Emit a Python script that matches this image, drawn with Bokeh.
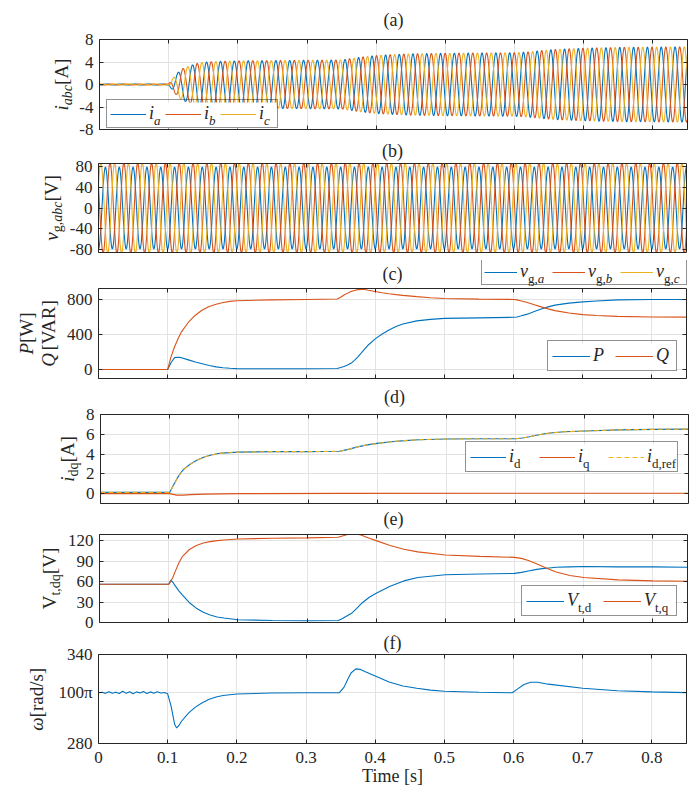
import numpy as np
from bokeh.plotting import figure
from bokeh.layouts import column, row
from bokeh.models import (Legend, LegendItem, Label, LinearAxis, FixedTicker, Range1d, Grid, Title,
                          BoxAnnotation)
from bokeh.embed import file_html
from bokeh.resources import INLINE
from bokeh.core.properties import value

# ---------------- data ----------------
x_ticks = [0, 0.1, 0.2, 0.3, 0.4, 0.5, 0.6, 0.7, 0.8]
x_tick_labels = ["0", "0.1", "0.2", "0.3", "0.4", "0.5", "0.6", "0.7", "0.8"]

ya_ticks = [-8, -4, 0, 4, 8]
ya_labels = ["-8", "-4", "0", "4", "8"]
yb_ticks = [-80, -40, 0, 40, 80]
yb_labels = ["-80", "-40", "0", "40", "80"]
yc_ticks = [0, 400, 800]
yc_labels = ["0", "400", "800"]
yd_ticks = [0, 2, 4, 6, 8]
yd_labels = ["0", "2", "4", "6", "8"]
ye_ticks = [0, 30, 60, 90, 120]
ye_labels = ["0", "30", "60", "90", "120"]
yf_ticks = [280.0, 314.1592653589793, 340.0]
yf_labels = ["280", "100π", "340"]

# (a)/(b) three-phase waveforms: 50 Hz, peak envelopes
grid_freq_hz = 50.0
vg_phase_a_deg = -90.0
vg_peak = [78.0, 86.0, 86.0]
t_iamp = [0.0, 0.1, 0.105, 0.11, 0.115, 0.12, 0.13, 0.14, 0.15, 0.17, 0.2, 0.25, 0.3, 0.35,
          0.36, 0.38, 0.4, 0.42, 0.45, 0.5, 0.55, 0.6, 0.62, 0.64, 0.66, 0.7, 0.75, 0.8, 0.85]
i_peak = [0.1, 0.1, 0.9, 1.7, 2.3, 2.8, 3.3, 3.7, 3.95, 4.1, 4.2, 4.25, 4.3, 4.35,
          4.55, 4.9, 5.15, 5.3, 5.45, 5.55, 5.6, 5.65, 5.8, 6.05, 6.25, 6.45, 6.6, 6.65, 6.7]

# (c) active / reactive power
t_pq = [0.0, 0.1, 0.105, 0.11, 0.115, 0.12, 0.13, 0.14, 0.15, 0.16, 0.17, 0.18, 0.19, 0.2,
        0.25, 0.3, 0.345, 0.35, 0.355, 0.36, 0.365, 0.37, 0.375, 0.38, 0.385, 0.39,
        0.4, 0.41, 0.42, 0.43, 0.44, 0.46, 0.48, 0.5, 0.55, 0.6, 0.605, 0.61, 0.62, 0.63,
        0.64, 0.65, 0.66, 0.68, 0.7, 0.72, 0.75, 0.8, 0.85]
P_w = [0, 0, 80, 135, 140, 135, 110, 85, 65, 45, 30, 20, 14, 10,
       8, 8, 12, 22, 35, 50, 70, 105, 145, 190, 236, 280,
       350, 405, 450, 490, 520, 555, 572, 584, 590, 596, 600, 610, 632, 662,
       690, 715, 735, 758, 772, 782, 795, 800, 800]
Q_var = [0, 0, 150, 260, 350, 430, 540, 620, 680, 720, 745, 765, 778, 785,
         795, 800, 805, 825, 850, 872, 890, 903, 912, 915, 913, 905,
         890, 877, 865, 855, 846, 832, 820, 810, 804, 800, 795, 785, 765, 740,
         715, 692, 672, 645, 627, 617, 607, 600, 598]

# (d) dq currents
t_dq = [0.0, 0.1, 0.105, 0.11, 0.115, 0.12, 0.13, 0.14, 0.15, 0.16, 0.17, 0.18, 0.2, 0.25, 0.3,
        0.345, 0.35, 0.36, 0.37, 0.38, 0.39, 0.4, 0.42, 0.44, 0.46, 0.5, 0.55, 0.6, 0.61, 0.62,
        0.63, 0.64, 0.65, 0.67, 0.7, 0.75, 0.8, 0.85]
i_d = [0.12, 0.12, 0.8, 1.45, 2.0, 2.45, 3.0, 3.4, 3.7, 3.9, 4.05, 4.12, 4.2, 4.25, 4.25,
       4.28, 4.35, 4.5, 4.7, 4.85, 4.98, 5.08, 5.25, 5.36, 5.45, 5.52, 5.55, 5.55, 5.62, 5.75,
       5.9, 6.03, 6.13, 6.25, 6.33, 6.45, 6.5, 6.52]
i_d_ref = [0.12, 0.12, 0.75, 1.4, 1.95, 2.4, 2.98, 3.38, 3.7, 3.9, 4.05, 4.12, 4.2, 4.25, 4.25,
           4.28, 4.35, 4.5, 4.7, 4.85, 4.98, 5.08, 5.25, 5.36, 5.45, 5.52, 5.55, 5.55, 5.62, 5.75,
           5.9, 6.03, 6.13, 6.25, 6.33, 6.45, 6.5, 6.52]
t_iq = [0.0, 0.1, 0.105, 0.11, 0.12, 0.13, 0.15, 0.2, 0.35, 0.6, 0.85]
i_q = [0.0, 0.0, -0.08, -0.15, -0.15, -0.1, -0.05, 0.0, 0.02, 0.03, 0.03]

# (e) terminal voltage dq
t_vt = [0.0, 0.1, 0.103, 0.106, 0.11, 0.115, 0.12, 0.13, 0.14, 0.15, 0.16, 0.17, 0.18, 0.2, 0.25,
        0.3, 0.345, 0.35, 0.355, 0.36, 0.365, 0.37, 0.375, 0.38, 0.385, 0.39, 0.4, 0.42, 0.44, 0.46,
        0.5, 0.55, 0.6, 0.61, 0.62, 0.63, 0.64, 0.65, 0.66, 0.68, 0.7, 0.75, 0.8, 0.85]
V_td = [56, 56, 62, 59, 53, 46, 40, 29, 21, 15, 11, 8, 6.5, 4, 3,
        2.5, 3, 5, 8, 11, 14, 19, 24, 29, 33, 37, 43, 53, 61, 66,
        70, 71, 72, 73.5, 75.5, 77.5, 79, 80, 81, 81.5, 82, 81.5, 81.5, 81]
V_tq = [56, 56, 60, 66, 76, 88, 97, 107, 113, 116.5, 118.5, 120, 121, 122.5, 123.5,
        124, 125, 126.5, 128, 129.5, 130, 130, 129, 127.5, 125.5, 123.5, 120, 113, 107.5, 103.5,
        99, 97, 95.5, 94, 91, 87, 82.5, 78, 74, 69, 66, 62.5, 61, 60.5]

# (f) angular frequency
t_w = [0.0, 0.005, 0.01, 0.015, 0.02, 0.025, 0.03, 0.035, 0.04, 0.045, 0.05, 0.055, 0.06, 0.065,
       0.07, 0.075, 0.08, 0.085, 0.09, 0.095, 0.1, 0.105, 0.11, 0.113, 0.116, 0.12, 0.13, 0.14,
       0.15, 0.16, 0.17, 0.18, 0.2, 0.25, 0.3, 0.348, 0.355, 0.36, 0.365, 0.372, 0.378, 0.385,
       0.4, 0.42, 0.44, 0.46, 0.48, 0.5, 0.55, 0.598, 0.605, 0.615, 0.625, 0.635, 0.65, 0.7,
       0.75, 0.8, 0.85]
w_rad = [314.2, 314.5, 313.8, 314.9, 313.9, 314.6, 313.7, 315.2, 313.8, 314.9, 313.6, 314.8, 314.0, 315.0,
         313.7, 314.8, 313.9, 314.9, 314.0, 314.4, 313.5, 305.0, 293.0, 290.5, 292.0, 295.0, 300.5, 304.5,
         307.5, 309.8, 311.3, 312.4, 313.4, 314.0, 314.2, 314.2, 318.0, 323.0, 327.5, 330.3, 330.0, 328.5,
         325.5, 321.5, 318.8, 317.2, 316.0, 315.2, 314.5, 314.2, 316.5, 319.8, 321.3, 321.3, 320.0, 317.2,
         315.6, 314.8, 314.3]

# ---------------- styling ----------------
BLUE, ORANGE, YELLOW = "#0072BD", "#D95319", "#EDB120"
FONT = "Liberation Serif"
AX = "#262626"
GRID = "#e3e3e3"
LW = 1.1
W = 699
LEFT = 98
FW = 588
XR = (0, 0.85)

REG = {'(': .333, ')': .333, '[': .333, ']': .333, ',': .25, '.': .25, '/': .278, ' ': .25,
       'A': .722, 'V': .722, 'W': .944, 'R': .667, 'T': .611, 'P': .556, 'Q': .722,
       'a': .444, 'b': .5, 'c': .444, 'd': .5, 'e': .444, 'f': .333, 'g': .5, 'i': .278,
       'm': .778, 'q': .5, 'r': .333, 's': .389, 't': .278}
ITA = {'a': .5, 'b': .5, 'c': .444, 'i': .278, 'v': .444, 'P': .611, 'Q': .722, 'V': .611, 'ω': .67}


def tw(s, size, style):
    tab = ITA if style == "italic" else REG
    return sum(tab.get(ch, REG.get(ch, .5)) for ch in s) * size


def no_grids(p):
    p.center = [r for r in p.center if not isinstance(r, Grid)]
    return p


def blank(width, height):
    # a figure whose frame is its whole canvas: holds free-standing texts / legends
    return no_grids(figure(width=width, height=height, min_border=0, x_range=Range1d(0, 1),
                           y_range=Range1d(0, 1), x_axis_location=None, y_axis_location=None,
                           title=None, output_backend="svg", toolbar_location=None,
                           outline_line_color=None, background_fill_color="white",
                           border_fill_color="white"))


def panel(lab_w, frame_h, top, bottom, yr):
    return no_grids(figure(frame_width=FW, frame_height=frame_h, min_border_left=LEFT - lab_w,
                           min_border_right=13, min_border_top=top, min_border_bottom=bottom,
                           x_range=Range1d(*XR), y_range=Range1d(*yr),
                           x_axis_location=None, y_axis_location=None, title=None,
                           output_backend="svg", toolbar_location=None,
                           background_fill_color="white", border_fill_color="white",
                           outline_line_color=None))


def style_axis(ax, show, standoff):
    ax.axis_line_color = AX
    ax.axis_line_width = 1
    ax.major_tick_line_color = AX
    ax.major_tick_in = 4
    ax.major_tick_out = 0
    ax.minor_tick_line_color = None
    if show:
        ax.major_label_text_font = FONT
        ax.major_label_text_font_size = "17px"
        ax.major_label_text_color = AX
        ax.major_label_text_font_style = "normal"
        ax.major_label_standoff = standoff
    else:
        ax.major_label_text_font_size = "0px"
        ax.major_label_standoff = 0


def add_axes(p, yt, yl, show_x=False):
    for loc in ("below", "above"):
        show = show_x and loc == "below"
        labs = x_tick_labels if show else [""] * len(x_ticks)
        ax = LinearAxis(ticker=FixedTicker(ticks=x_ticks),
                        major_label_overrides={float(k): v for k, v in zip(x_ticks, labs)})
        style_axis(ax, show, 8)
        if show:
            ax.axis_label = "Time [s]"
            ax.axis_label_text_font = FONT
            ax.axis_label_text_font_size = "18px"
            ax.axis_label_text_font_style = "normal"
            ax.axis_label_text_color = AX
            ax.axis_label_standoff = 0
        p.add_layout(ax, loc)
    for loc in ("left", "right"):
        show = loc == "left"
        labs = yl if show else [""] * len(yt)
        ax = LinearAxis(ticker=FixedTicker(ticks=yt),
                        major_label_overrides={float(k): v for k, v in zip(yt, labs)})
        style_axis(ax, show, 6)
        p.add_layout(ax, loc)
    p.add_layout(Grid(dimension=0, ticker=FixedTicker(ticks=x_ticks), grid_line_color=GRID))
    p.add_layout(Grid(dimension=1, ticker=FixedTicker(ticks=yt), grid_line_color=GRID))


def add_title(p, text, standoff):
    p.add_layout(Title(text=text, align="center", vertical_align="top", text_font=FONT,
                       text_font_size="18px", text_font_style="normal", text_color=AX,
                       standoff=standoff), "above")


def text_label(p, text, x, y, size=18, style="normal", align="center", baseline="middle"):
    p.add_layout(Label(x=x, y=y, x_units="screen", y_units="screen", text=text,
                       text_align=align, text_baseline=baseline, text_font=FONT,
                       text_font_size=f"{size}px", text_font_style=style, text_color=AX))


def vlabel(p, pieces, xc, yc):
    # rotated label read bottom-to-top, xc = centre line of the main text;
    # each piece is anchored at its upper end
    widths = [tw(t, s, st) for t, s, st, sh in pieces]
    y = yc - sum(widths) / 2
    for (t, s, st, sh), wd in zip(pieces, widths):
        y += wd
        p.add_layout(Label(x=xc + sh, y=y, x_units="screen", y_units="screen", text=t,
                           angle=np.pi / 2, text_align="right", text_baseline="middle",
                           text_font=FONT, text_font_size=f"{s}px", text_font_style=st,
                           text_color=AX))


def hrich(p, pieces, x, y):
    for t, s, st in pieces:
        text_label(p, t, x, y, size=s, style=st, align="left", baseline="middle")
        x += tw(t, s, st)


def add_legend(p, rends, mains, subs, vx, vy, pad, gw, ls, lw, sp, fw, fh, xr, yr):
    n = len(rends)
    H = 2 * pad + 20
    Wd = 2 * pad + n * (gw + ls + lw) + (n - 1) * sp
    sxd = (xr[1] - xr[0]) / fw
    syd = (yr[1] - yr[0]) / fh
    # white legend background drawn first, so that the subscripts stay visible on it
    p.add_layout(BoxAnnotation(left=xr[0] + vx * sxd, right=xr[0] + (vx + Wd) * sxd,
                               bottom=yr[0] + vy * syd, top=yr[0] + (vy + H) * syd,
                               fill_color="white", fill_alpha=1, line_color=None,
                               line_alpha=0))
    ymid = vy + pad + 10
    for i, (m, sub) in enumerate(zip(mains, subs)):
        if not sub:
            continue
        x = vx + pad + i * (gw + ls + lw + sp) + gw + ls + tw(m, 18, "italic") + 0.5
        hrich(p, sub, x, ymid - 5)
    items = [LegendItem(label=value(m), renderers=[r]) for r, m in zip(rends, mains)]
    leg = Legend(items=items, orientation="horizontal", location=(vx, vy), padding=pad,
                 spacing=sp, glyph_width=gw, glyph_height=16, label_standoff=ls,
                 label_width=lw, label_height=20, margin=0,
                 label_text_font=FONT, label_text_font_size="18px",
                 label_text_font_style="italic", label_text_color=AX,
                 border_line_color=AX, border_line_width=1,
                 background_fill_alpha=0)
    p.add_layout(leg)


# ---------------- waveforms ----------------
t = np.arange(0.0, 0.8502, 0.0004)
wt = 2 * np.pi * grid_freq_hz * t + np.deg2rad(vg_phase_a_deg)
shifts = [0.0, -2 * np.pi / 3, 2 * np.pi / 3]
amp_i = np.interp(t, t_iamp, i_peak)
phi = np.arctan2(np.interp(t, t_pq, Q_var), np.interp(t, t_pq, P_w))
v_abc = [vg_peak[k] * np.sin(wt + shifts[k]) for k in range(3)]
i_abc = [amp_i * np.sin(wt + shifts[k] - phi) for k in range(3)]
cols = [BLUE, ORANGE, YELLOW]

SUB = 5.5  # offset of a subscript's centre line from the main text's centre line

# ---------------- (a)  canvas 0..139 ----------------
LA, YA = 76, (-8, 8)
pa = panel(LA, 90, 39, 10, YA)
add_axes(pa, ya_ticks, ya_labels)
ra = [pa.line(t, i_abc[k], color=cols[k], line_width=LW) for k in range(3)]
add_title(pa, "(a)", 15)
add_legend(pa, ra, ["i", "i", "i"],
           [[("a", 13, "italic")], [("b", 13, "italic")], [("c", 13, "italic")]],
           7, 1, 3, 36, 3, 15, 1, FW, 90, XR, YA)
la = blank(LA, 139)
vlabel(la, [("i", 19, "italic", 0), ("abc", 14, "italic", SUB), ("[A]", 19, "normal", 0)], 61, 45)

# ---------------- (b)  canvas 139..260 ----------------
LB, YB = 66, (-85, 85)
pb = panel(LB, 89, 24, 8, YB)
add_axes(pb, yb_ticks, yb_labels)
rb = [pb.line(t, v_abc[k], color=cols[k], line_width=LW) for k in range(3)]
add_title(pb, "(b)", 1)
lb = blank(LB, 121)
vlabel(lb, [("v", 19, "italic", 0), ("g,", 14, "normal", SUB), ("abc", 14, "italic", SUB),
            ("[V]", 19, "normal", 0)], 51, 44.5)

# strip 260..288 : legend of (b) and title (c)
sb = blank(W, 28)
proxies = [sb.line(x=[np.nan], y=[np.nan], color=cols[k], line_width=LW) for k in range(3)]
add_legend(sb, proxies, ["v", "v", "v"],
           [[("g,", 13, "normal"), ("a", 13, "italic")],
            [("g,", 13, "normal"), ("b", 13, "italic")],
            [("g,", 13, "normal"), ("c", 13, "italic")]],
           481, 3, 2, 33, 3, 28, 4, W, 28, (0, 1), (0, 1))
text_label(sb, "(c)", LEFT + 294, 15)

# ---------------- (c)  canvas 288..380 ----------------
LC, YC = 60, (-103, 925)
pc = panel(LC, 90, 0, 2, YC)
add_axes(pc, yc_ticks, yc_labels)
rP = pc.line(t_pq, P_w, color=BLUE, line_width=LW)
rQ = pc.line(t_pq, Q_var, color=ORANGE, line_width=LW)
add_legend(pc, [rP, rQ], ["P", "Q"], [None, None], 449, 7, 4, 38, 3, 16, 6, FW, 90, XR, YC)
lc = blank(LC, 92)
vlabel(lc, [("P", 19, "italic", 0), ("[W]", 19, "normal", 0)], 26, 45)
vlabel(lc, [("Q", 19, "italic", 0), ("[VAR]", 19, "normal", 0)], 48, 45)

# ---------------- (d)  canvas 380..504 ----------------
LD, YD = 82, (-1, 8)
pd_ = panel(LD, 89, 34, 1, YD)
add_axes(pd_, yd_ticks, yd_labels)
rid = pd_.line(t_dq, i_d, color=BLUE, line_width=LW)
riq = pd_.line(t_iq, i_q, color=ORANGE, line_width=LW)
ridr = pd_.line(t_dq, i_d_ref, color=YELLOW, line_width=LW, line_dash="5 3")
add_title(pd_, "(d)", 11)
add_legend(pd_, [rid, riq, ridr], ["i", "i", "i"],
           [[("d", 13, "normal")], [("q", 13, "normal")], [("d,ref", 13, "normal")]],
           365, 31, 4, 36, 3, 26, 4, FW, 89, XR, YD)
ld = blank(LD, 124)
vlabel(ld, [("i", 19, "italic", 0), ("dq", 14, "normal", SUB), ("[A]", 19, "normal", 0)], 67, 44.5)

# ---------------- (e)  canvas 504..631 ----------------
LE, YE = 64, (0, 129)
pe = panel(LE, 88, 30, 9, YE)
add_axes(pe, ye_ticks, ye_labels)
rvd = pe.line(t_vt, V_td, color=BLUE, line_width=LW)
rvq = pe.line(t_vt, V_tq, color=ORANGE, line_width=LW)
add_title(pe, "(e)", 7)
add_legend(pe, [rvd, rvq], ["V", "V"],
           [[("t,d", 13, "normal")], [("t,q", 13, "normal")]],
           422, 6, 4, 38, 3, 28, 8, FW, 88, XR, YE)
le = blank(LE, 127)
vlabel(le, [("V", 19, "normal", 0), ("t,dq", 14, "normal", SUB), ("[V]", 19, "normal", 0)], 49, 44)

# ---------------- (f)  canvas 631..792 ----------------
LF = 50
pf = panel(LF, 89, 23, 49, (280, 340))
add_axes(pf, yf_ticks, yf_labels, show_x=True)
pf.line(t_w, w_rad, color=BLUE, line_width=LW)
add_title(pf, "(f)", 0)
lf = blank(LF, 161)
vlabel(lf, [("ω", 19, "italic", 0), ("[rad", 19, "normal", 0), ("/s]", 19, "normal", 0)], 36, 44.5)

layout = column(row(la, pa), row(lb, pb), sb, row(lc, pc), row(ld, pd_), row(le, pe), row(lf, pf),
                spacing=0)
open("out.html", "w").write(file_html(layout, INLINE))
